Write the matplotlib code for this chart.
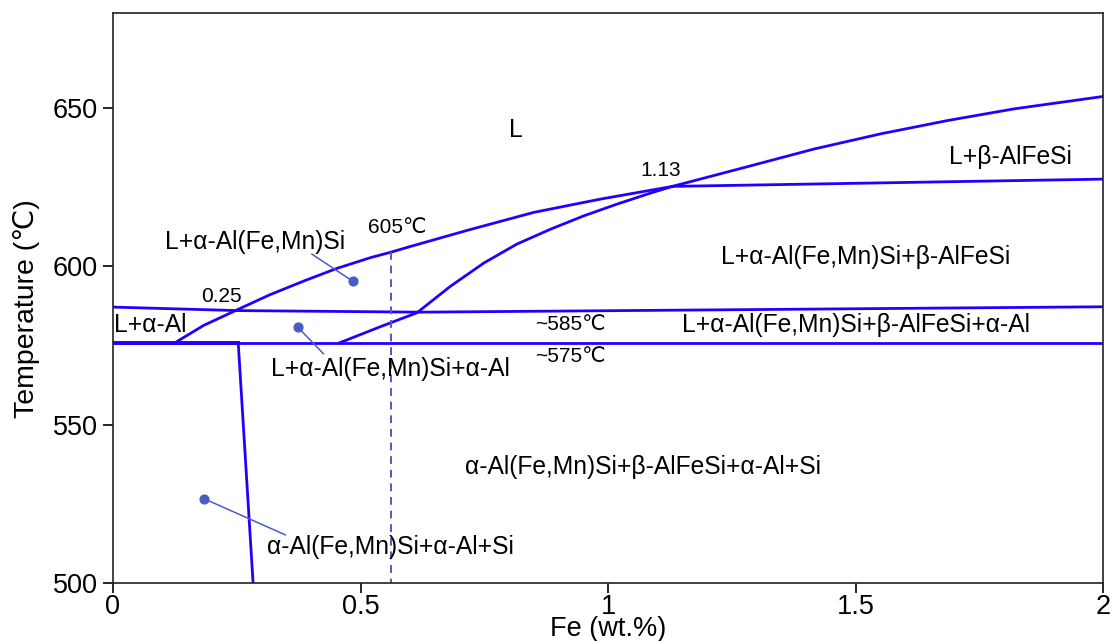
import matplotlib
matplotlib.use("Agg")
import matplotlib.pyplot as plt

plt.rcParams["font.family"] = ["Liberation Sans", "DejaVu Sans"]

# phase boundaries (Fe wt.%, temperature in degC)
liq_alpha_x = [0.129, 0.183, 0.253, 0.317, 0.385, 0.452, 0.520, 0.563,
               0.600, 0.715, 0.850, 0.985, 1.130]
liq_alpha_T = [576.2, 581.3, 586.4, 591.0, 595.3, 599.3, 602.7, 604.5,
               606.2, 611.3, 617.0, 621.2, 625.2]

liq_beta_x = [1.130, 1.281, 1.416, 1.551, 1.686, 1.821, 1.982, 2.0]
liq_beta_T = [625.2, 631.4, 637.0, 641.8, 646.0, 649.7, 653.2, 653.6]

beta_line_x = [1.130, 2.0]
beta_line_T = [625.2, 627.5]

ternary_x = [0.459, 0.54, 0.614, 0.681, 0.749, 0.816, 0.884, 0.951,
             1.018, 1.086, 1.130]
ternary_T = [575.9, 580.9, 585.3, 593.6, 601.0, 607.0, 611.7, 615.9,
             619.6, 623.1, 625.2]

eut585_x = [0.0, 0.25, 0.62, 1.2, 2.0]
eut585_T = [587.1, 586.0, 585.5, 586.2, 587.2]

eut575_x = [0.0, 2.0]
eut575_T = [575.8, 575.8]

solvus_x = [0.253, 0.283]
solvus_T = [575.8, 500.0]

alloy_x = [0.562, 0.562]
alloy_T = [604.6, 500.0]

# region labels: (text, x, T)
region_labels = [
    ("L", 0.813, 643.0),
    ("L+β-AlFeSi", 1.812, 634.6),
    ("L+α-Al(Fe,Mn)Si", 0.287, 607.6),
    ("L+α-Al(Fe,Mn)Si+β-AlFeSi", 1.52, 602.8),
    ("L+α-Al", 0.075, 581.6),
    ("L+α-Al(Fe,Mn)Si+β-AlFeSi+α-Al", 1.50, 581.6),
    ("L+α-Al(Fe,Mn)Si+α-Al", 0.56, 567.4),
    ("α-Al(Fe,Mn)Si+β-AlFeSi+α-Al+Si", 1.07, 536.7),
    ("α-Al(Fe,Mn)Si+α-Al+Si", 0.56, 511.4),
]

# small value labels
value_labels = [
    ("1.13", 1.106, 630.2),
    ("605℃", 0.574, 612.2),
    ("0.25", 0.22, 590.6),
    ("~585℃", 0.924, 581.6),
    ("~575℃", 0.924, 571.4),
]

# leader lines: dot position -> end near label
dots_x = [0.484, 0.373, 0.184]
dots_T = [595.3, 580.8, 526.6]
lead_x = [0.402, 0.425, 0.348]
lead_T = [603.8, 572.4, 515.2]

BLUE = "#2200ff"
LEAD = "#4a5cc4"

fig = plt.figure(figsize=(11.12, 6.41), dpi=100)
ax = fig.add_axes([0.1016, 0.0905, 0.8904, 0.8895])

lw = 2.0
ax.plot(liq_alpha_x, liq_alpha_T, color=BLUE, lw=lw)
ax.plot(liq_beta_x, liq_beta_T, color=BLUE, lw=lw)
ax.plot(beta_line_x, beta_line_T, color=BLUE, lw=lw)
ax.plot(ternary_x, ternary_T, color=BLUE, lw=lw)
ax.plot(eut585_x, eut585_T, color=BLUE, lw=lw)
ax.plot(eut575_x, eut575_T, color=BLUE, lw=lw)
# left part of the 575 line is drawn heavier in the original
ax.plot([0.0, solvus_x[0]], eut575_T, color=BLUE, lw=2.8)
ax.plot(solvus_x, solvus_T, color=BLUE, lw=lw)
ax.plot(alloy_x, alloy_T, color=LEAD, lw=1.4, ls=(0, (4, 3)))

for dx, dT, lx, lT in zip(dots_x, dots_T, lead_x, lead_T):
    ax.plot([dx, lx], [dT, lT], color=LEAD, lw=1.1)
ax.scatter(dots_x, dots_T, s=40, color=LEAD, zorder=4)

for txt, x, T in region_labels:
    ax.text(x, T, txt, fontsize=17.7, ha="center", va="center", color="black")
for txt, x, T in value_labels:
    ax.text(x, T, txt, fontsize=15, ha="center", va="center", color="black")

ax.set_xlim(0, 2)
ax.set_ylim(500, 680)
ax.set_xticks([0, 0.5, 1, 1.5, 2])
ax.set_xticklabels(["0", "0.5", "1", "1.5", "2"])
ax.set_yticks([500, 550, 600, 650])
ax.tick_params(axis="both", labelsize=19.5, length=7, width=1.2, direction="out")
ax.tick_params(axis="x", pad=1)
ax.tick_params(axis="y", pad=4)
for sp in ax.spines.values():
    sp.set_linewidth(1.2)
    sp.set_color("#222222")

ax.set_xlabel("Fe (wt.%)", fontsize=19.5, labelpad=-3)
ax.set_ylabel("Temperature (℃)", fontsize=20.5)
ax.yaxis.set_label_coords(-0.0735, 0.482)

fig.savefig("out.png", dpi=100)
